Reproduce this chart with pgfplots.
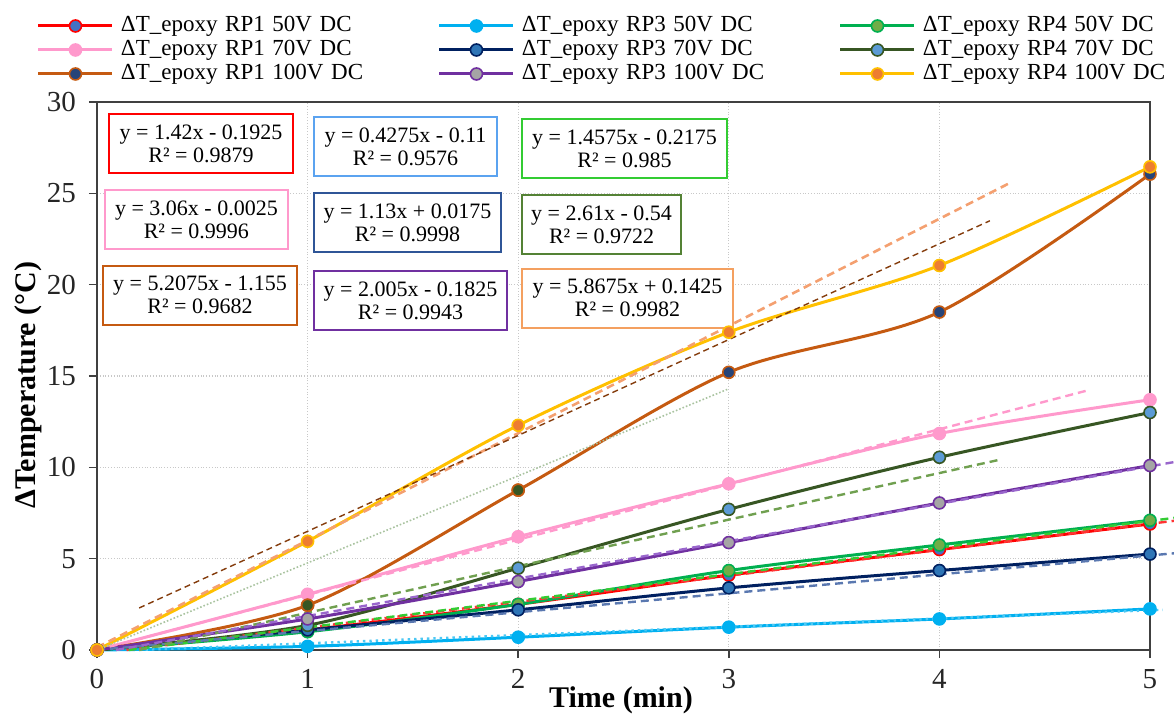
\documentclass[border=0pt]{standalone}
\usepackage{fontspec}
\setmainfont{Liberation Serif}
\usepackage{pgfplots}
\pgfplotsset{compat=1.18}

\definecolor{axisc}{HTML}{404040}
\definecolor{gridc}{HTML}{C8C8C8}
\definecolor{c1}{HTML}{FF0000}\definecolor{m1}{HTML}{4472C4}
\definecolor{c2}{HTML}{00B0F0}
\definecolor{c3}{HTML}{00B050}\definecolor{m3}{HTML}{70AD47}
\definecolor{c4}{HTML}{FF99CC}
\definecolor{c5}{HTML}{002060}\definecolor{m5}{HTML}{2E75B6}
\definecolor{c6}{HTML}{375623}\definecolor{m6}{HTML}{5B9BD5}
\definecolor{c7}{HTML}{C55A11}\definecolor{m7}{HTML}{264478}
\definecolor{c8}{HTML}{7030A0}\definecolor{m8}{HTML}{A5A5A5}
\definecolor{c9}{HTML}{FFC000}\definecolor{m9}{HTML}{ED7D31}
\definecolor{b2}{HTML}{5BA3F0}
\definecolor{b3}{HTML}{33CC33}
\definecolor{b5}{HTML}{2F5597}
\definecolor{b6}{HTML}{548235}
\definecolor{b9}{HTML}{F4A060}
\definecolor{t5}{HTML}{5A78B0}
\definecolor{t6}{HTML}{70A050}
\definecolor{t8}{HTML}{9966CC}
\definecolor{t9}{HTML}{F4A070}
\definecolor{t10}{HTML}{843C0C}
\definecolor{t11}{HTML}{A9C3A0}

\newcommand{\eqf}{\fontsize{11}{11.5}\selectfont}

\begin{document}
\begin{tikzpicture}
\useasboundingbox (-48.5pt,-31.5pt) rectangle (538.5pt,325pt);
\begin{axis}[
  scale only axis, width=526.5pt, height=274pt,
  xmin=0, xmax=5, ymin=0, ymax=30,
  xtick={0,1,2,3,4,5}, ytick={0,5,10,15,20,25,30},
  tick pos=left, tick align=outside, major tick length=4pt,
  tick style={color=axisc, line width=0.8pt},
  axis line style={color=axisc, line width=1pt},
  grid=major, grid style={densely dotted, color=gridc, line width=0.6pt},
  ticklabel style={font=\fontsize{14.5}{15}\selectfont, text=black!85},
  /pgf/number format/assume math mode=true,
  yticklabel style={xshift=-3pt},
  xticklabel style={yshift=-2pt},
  xlabel={Time (min)}, ylabel={ΔTemperature (°C)},
  xlabel style={font=\fontsize{15}{16}\selectfont\bfseries, at={(axis description cs:0.4976,-0.1058)}, anchor=base},
  ylabel style={font=\fontsize{15}{16}\selectfont\bfseries, at={(axis description cs:-0.0655,0.4836)}, anchor=center},
  clip=false,
  every axis plot/.append style={line width=1.5pt, smooth, tension=0.5},
  mark size=3pt,
  legend columns=3,
  legend style={at={(axis description cs:-0.057,1.1588)}, anchor=north west, draw=none, fill=none,
     inner sep=0pt, outer sep=0pt, row sep=1pt,
     font=\fontsize{11.5}{12}\selectfont,
     nodes={inner xsep=3.5pt, inner ysep=0pt, text height=8.5pt, text depth=2.5pt, text width=155pt, align=left}},
  legend image code/.code={\draw[mark repeat=2,mark phase=2,#1] plot coordinates {(0pt,0pt) (18.5pt,0pt) (37pt,0pt)};},
  legend entries={ΔT\_epoxy RP1 50V DC, ΔT\_epoxy RP3 50V DC, ΔT\_epoxy RP4 50V DC,
                  ΔT\_epoxy RP1 70V DC, ΔT\_epoxy RP3 70V DC, ΔT\_epoxy RP4 70V DC,
                  ΔT\_epoxy RP1 100V DC, ΔT\_epoxy RP3 100V DC, ΔT\_epoxy RP4 100V DC},
]
% data series
\addplot[color=c1, mark=*, mark options={fill=m1, draw=c1, line width=0.8pt}] coordinates {(0,0) (1,1.1) (2,2.5) (3,4.1) (4,5.5) (5,6.9)};
\addplot[color=c2, mark=*, mark options={fill=c2, draw=c2, line width=0.8pt}] coordinates {(0,0) (1,0.2) (2,0.7) (3,1.25) (4,1.7) (5,2.25)};
\addplot[color=c3, mark=*, mark options={fill=m3, draw=c3, line width=0.8pt}] coordinates {(0,0) (1,1.0) (2,2.5) (3,4.35) (4,5.75) (5,7.1)};
\addplot[color=c4, mark=*, mark options={fill=c4, draw=c4, line width=0.8pt}] coordinates {(0,0) (1,3.05) (2,6.2) (3,9.1) (4,11.85) (5,13.7)};
\addplot[color=c5, mark=*, mark options={fill=m5, draw=c5, line width=0.8pt}] coordinates {(0,0) (1,1.1) (2,2.2) (3,3.4) (4,4.35) (5,5.25)};
\addplot[color=c6, mark=*, mark options={fill=m6, draw=c6, line width=0.8pt}] coordinates {(0,0) (1,1.35) (2,4.48) (3,7.7) (4,10.55) (5,13.0)};
\addplot[color=c7, mark=*, mark options={fill=m7, draw=c7, line width=0.8pt}] coordinates {(0,0) (1,2.45) (2,8.75) (3,15.2) (4,18.5) (5,26.05)};
\addplot[forget plot, only marks, mark=*, mark options={fill=c6, draw=c7, line width=0.8pt}] coordinates {(1,2.45) (2,8.75)};
\addplot[color=c8, mark=*, mark options={fill=m8, draw=c8, line width=0.8pt}] coordinates {(0,0) (1,1.7) (2,3.75) (3,5.88) (4,8.05) (5,10.1)};
\addplot[color=c9, mark=*, mark options={fill=m9, draw=c9, line width=0.8pt}] coordinates {(0,0) (1,5.95) (2,12.3) (3,17.4) (4,21.05) (5,26.45)};
% trendlines
\addplot[forget plot, no marks, sharp plot, color=c1!80, line width=1.2pt, dash pattern=on 4pt off 2.5pt] coordinates {(0.14,0) (5.12,7.08)};
\addplot[forget plot, no marks, sharp plot, color=c2!70, line width=1.2pt, dotted] coordinates {(0.2,0) (5.06,2.2)};
\addplot[forget plot, no marks, sharp plot, color=b3, line width=1.2pt, dash pattern=on 4pt off 2.5pt] coordinates {(0.15,0) (5.12,7.24)};
\addplot[forget plot, no marks, sharp plot, color=c4, line width=1.2pt, dash pattern=on 4pt off 2.5pt] coordinates {(0,0) (4.7,14.2)};
\addplot[forget plot, no marks, sharp plot, color=t5, line width=1.2pt, dash pattern=on 4pt off 2.5pt] coordinates {(0,0) (5.12,5.3)};
\addplot[forget plot, no marks, sharp plot, color=t6, line width=1.2pt, dash pattern=on 4pt off 2.5pt] coordinates {(0.2,0) (4.28,10.4)};
\addplot[forget plot, no marks, sharp plot, color=t8, line width=1.2pt, dash pattern=on 4pt off 2.5pt] coordinates {(0.09,0) (5.12,10.3)};
\addplot[forget plot, no marks, sharp plot, color=t9, line width=1.3pt, dash pattern=on 4pt off 2.5pt] coordinates {(0,0.14) (4.34,25.6)};
\addplot[forget plot, no marks, sharp plot, color=t10, line width=0.7pt, dash pattern=on 3pt off 2pt] coordinates {(0.2,2.3) (4.24,23.5)};
\addplot[forget plot, no marks, sharp plot, color=t11, line width=0.8pt, densely dotted] coordinates {(0,0) (3,14.3)};
% equation boxes
\tikzset{eqbox/.style={align=center, fill=white, line width=1pt, inner sep=1pt, font=\eqf, minimum height=29.5pt}}
\node[eqbox, draw=c1, minimum width=92pt] at (axis cs:0.494,27.73) {y = 1.42x - 0.1925\\R² = 0.9879};
\node[eqbox, draw=b2, minimum width=91.5pt] at (axis cs:1.465,27.54) {y = 0.4275x - 0.11\\R² = 0.9576};
\node[eqbox, draw=b3, minimum width=102.5pt] at (axis cs:2.505,27.43) {y = 1.4575x - 0.2175\\R² = 0.985};
\node[eqbox, draw=c4, minimum width=91.5pt] at (axis cs:0.472,23.57) {y = 3.06x - 0.0025\\R² = 0.9996};
\node[eqbox, draw=b5, minimum width=93.5pt] at (axis cs:1.474,23.38) {y = 1.13x + 0.0175\\R² = 0.9998};
\node[eqbox, draw=b6, minimum width=79.5pt] at (axis cs:2.396,23.29) {y = 2.61x - 0.54\\R² = 0.9722};
\node[eqbox, draw=c7, minimum width=97pt] at (axis cs:0.489,19.43) {y = 5.2075x - 1.155\\R² = 0.9682};
\node[eqbox, draw=c8, minimum width=96.5pt] at (axis cs:1.489,19.13) {y = 2.005x - 0.1825\\R² = 0.9943};
\node[eqbox, draw=b9, minimum width=105.5pt] at (axis cs:2.519,19.27) {y = 5.8675x + 0.1425\\R² = 0.9982};
\end{axis}
\end{tikzpicture}
\end{document}
